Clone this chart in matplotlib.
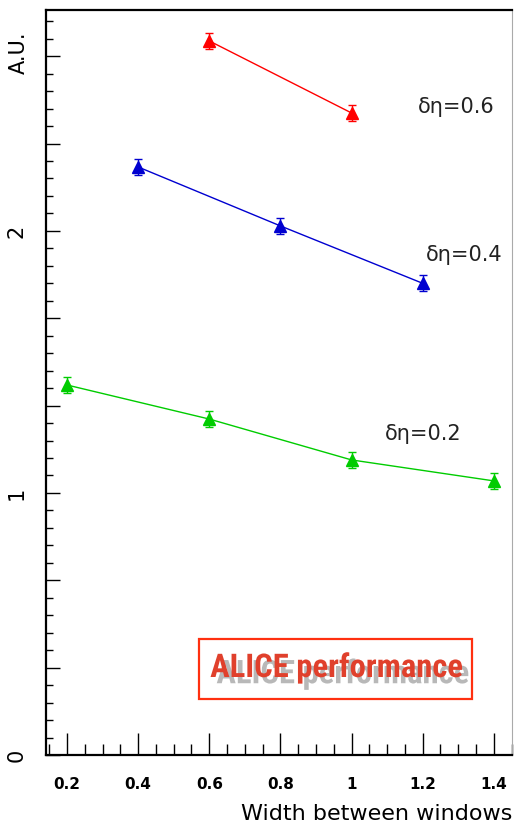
import numpy as np
import matplotlib
matplotlib.use("Agg")
import matplotlib.pyplot as plt
from matplotlib.patches import Rectangle
from matplotlib.ticker import MultipleLocator, FuncFormatter
import matplotlib.patheffects as pe

# Data
x_06 = [0.6, 1.0]
y_06 = [2.725, 2.45]
e_06 = [0.03, 0.03]

x_04 = [0.4, 0.8, 1.2]
y_04 = [2.244, 2.019, 1.80]
e_04 = [0.03, 0.03, 0.03]

x_02 = [0.2, 0.6, 1.0, 1.4]
y_02 = [1.412, 1.282, 1.126, 1.046]
e_02 = [0.032, 0.03, 0.03, 0.03]

series_labels = ["δη=0.6", "δη=0.4", "δη=0.2"]
xlabel = "Width between windows"
ylabel = "A.U."

W, H = 515, 839
fig = plt.figure(figsize=(W / 100, H / 100), dpi=100)
ax = fig.add_axes([46 / W, 1 - 755 / H, (512 - 46) / W, (755 - 10) / H])

ax.set_xlim(0.141, 1.451)
ax.set_ylim(0.0, 2.843)

for xs, ys, es, col in [(x_06, y_06, e_06, "#ff0000"),
                        (x_04, y_04, e_04, "#0000d0"),
                        (x_02, y_02, e_02, "#00cc00")]:
    ax.errorbar(xs, ys, yerr=es, color=col, marker="^", markersize=9,
                lw=1.0, elinewidth=1.0, capsize=3, capthick=1.0)

# labels for series
ax.text(1.0 + (456 - 351) / 355.8, 2.0 + (231 - 107) / 262, series_labels[0],
        fontsize=15, color="#222222", ha="center", va="center")
ax.text(1.0 + (464 - 351) / 355.8, 2.0 + (231 - 255) / 262, series_labels[1],
        fontsize=15, color="#222222", ha="center", va="center")
ax.text(1.0 + (423 - 351) / 355.8, 2.0 + (231 - 434) / 262, series_labels[2],
        fontsize=15, color="#222222", ha="center", va="center")

# ticks
ax.xaxis.set_major_locator(MultipleLocator(0.2))
ax.xaxis.set_minor_locator(MultipleLocator(0.05))
ax.yaxis.set_major_locator(MultipleLocator(1 / 3))
ax.yaxis.set_minor_locator(MultipleLocator(1 / 15))

def yfmt(v, pos):
    if abs(v - round(v)) < 1e-6:
        return "%d" % round(v)
    return ""

def xfmt(v, pos):
    s = "%.1f" % v
    if s.endswith(".0"):
        s = s[:-2]
    return s

ax.yaxis.set_major_formatter(FuncFormatter(yfmt))
ax.xaxis.set_major_formatter(FuncFormatter(xfmt))

ax.tick_params(axis="x", which="major", direction="in", length=15.5, width=1.0,
               pad=16, labelsize=11, top=False)
ax.tick_params(axis="x", which="minor", direction="in", length=8, width=1.0, top=False)
ax.tick_params(axis="y", which="major", direction="in", length=10, width=1.0,
               pad=14, labelsize=15, right=False, labelrotation=90)
ax.tick_params(axis="y", which="minor", direction="in", length=5, width=1.0, right=False)
for lab in ax.get_xticklabels():
    lab.set_fontweight("bold")
for lab in ax.get_yticklabels():
    lab.set_va("center")

for s in ["left", "bottom", "top"]:
    ax.spines[s].set_linewidth(1.6)
    ax.spines[s].set_color("black")
ax.spines["right"].set_linewidth(0.8)
ax.spines["right"].set_color("#aaaaaa")

# axis titles
fig.text(512 / W, 1 - 820 / H, xlabel, fontsize=16, ha="right", va="baseline")
fig.text(19 / W, 1 - 32 / H, ylabel, fontsize=15, rotation=90, ha="center", va="top")

# ALICE performance box
fig.patches.append(Rectangle((199 / W, 1 - 699 / H), 273 / W, 60 / H,
                             transform=fig.transFigure, fill=False,
                             edgecolor="#ff3010", lw=1.6))
fig.text(336.5 / W, 1 - 668 / H, "ALICE performance",
         fontsize=23.5, fontweight="bold", color="#e0402c", ha="center", va="center",
         family=["Roboto Condensed", "Liberation Sans Narrow", "Roboto", "DejaVu Sans"],
         path_effects=[pe.SimplePatchShadow(offset=(4.5, -4.5), shadow_rgbFace="#b8b8b8",
                                            alpha=1.0),
                       pe.Normal()])

fig.savefig("out.png", dpi=100)
